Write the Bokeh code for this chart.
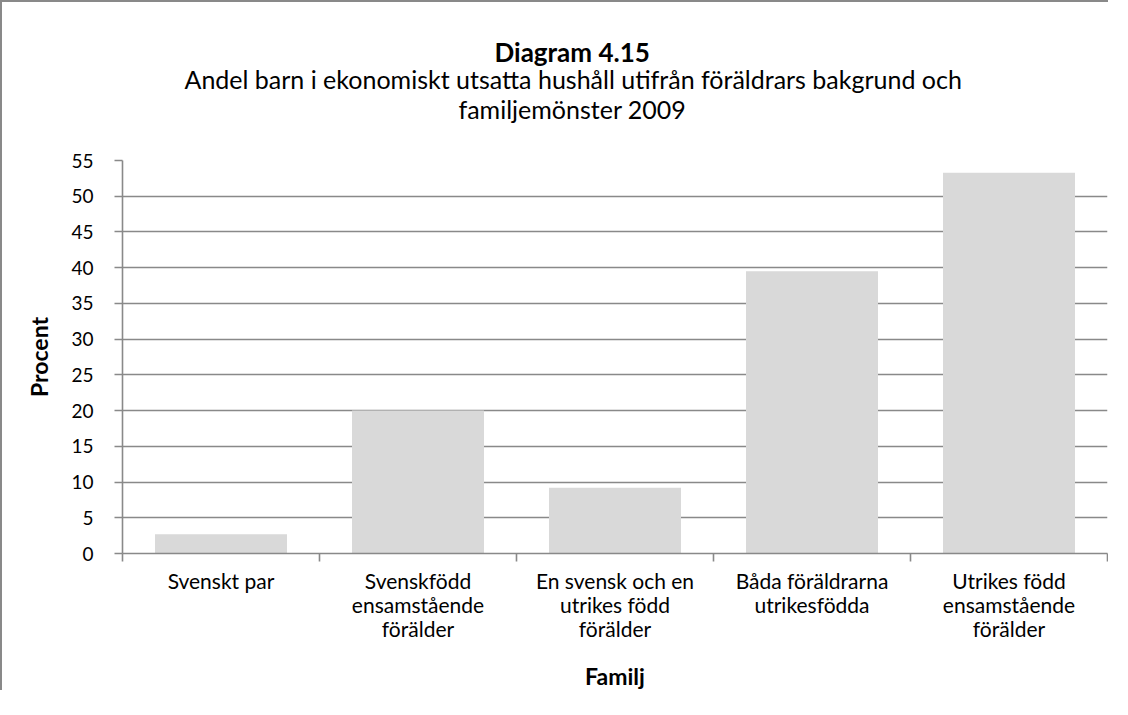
from bokeh.plotting import figure
from bokeh.models import (Title, FixedTicker, Range1d, ColumnDataSource, LinearAxis)
from bokeh.embed import file_html
from bokeh.resources import INLINE

# ---- data ----
categories = ["Svenskt par",
              "Svenskfödd ensamstående förälder",
              "En svensk och en utrikes född förälder",
              "Båda föräldrarna utrikesfödda",
              "Utrikes född ensamstående förälder"]
tick_labels = ["Svenskt par",
               "Svenskfödd\nensamstående\nförälder",
               "En svensk och en\nutrikes född\nförälder",
               "Båda föräldrarna\nutrikesfödda",
               "Utrikes född\nensamstående\nförälder"]
values = [2.7, 20.0, 9.2, 39.5, 53.3]
y_ticks = [0, 5, 10, 15, 20, 25, 30, 35, 40, 45, 50, 55]
title_main = "Diagram 4.15"
title_line1 = "Andel barn i ekonomiskt utsatta hushåll utifrån föräldrars bakgrund och"
title_line2 = "familjemönster 2009"
x_title = "Familj"
y_title = "Procent"

FONT = "Lato"
GRID = "#898989"

n = len(categories)
centers = [i + 0.5 for i in range(n)]
bounds = list(range(n + 1))
src = ColumnDataSource(dict(x=centers, cat=categories, val=values))

p = figure(width=1108, height=690, output_backend="svg", toolbar_location=None,
           x_range=Range1d(0, n), y_range=Range1d(0, 55), x_axis_location=None,
           min_border_left=120, min_border_right=3, min_border_top=158,
           min_border_bottom=138)
p.styles = {"border-top": f"2px solid {GRID}", "border-left": f"2px solid {GRID}"}
p.outline_line_color = None
p.background_fill_color = "white"
p.border_fill_color = "white"

p.vbar(x="x", top="val", width=0.67, source=src, fill_color="#d9d9d9", line_color=None)

# grid
p.xgrid.grid_line_color = None
p.ygrid.grid_line_color = GRID
p.ygrid.grid_line_width = 1.6
p.ygrid.ticker = FixedTicker(ticks=y_ticks)

# y axis
ya = p.yaxis[0]
ya.ticker = FixedTicker(ticks=y_ticks)
ya.axis_line_color = GRID
ya.axis_line_width = 1.6
ya.major_tick_line_color = GRID
ya.major_tick_line_width = 1.6
ya.major_tick_out = 8
ya.major_tick_in = 0
ya.minor_tick_line_color = None
ya.major_label_text_font = FONT
ya.major_label_text_font_size = "19px"
ya.major_label_text_color = "black"
ya.major_label_standoff = 21
ya.axis_label = y_title
ya.axis_label_text_font = FONT
ya.axis_label_text_font_size = "23px"
ya.axis_label_text_font_style = "bold"
ya.axis_label_text_color = "black"
ya.axis_label_standoff = 15

# boundary tick axis
ba = LinearAxis(ticker=FixedTicker(ticks=bounds),
                major_label_text_font_size="0px", major_label_standoff=0)
ba.major_label_overrides = {b: "" for b in bounds}
ba.axis_line_color = GRID
ba.axis_line_width = 1.6
ba.major_tick_line_color = GRID
ba.major_tick_line_width = 1.6
ba.major_tick_out = 8
ba.major_tick_in = 0
ba.minor_tick_line_color = None
p.add_layout(ba, "below")

# category label axis
ca = LinearAxis(ticker=FixedTicker(ticks=centers))
ca.axis_line_color = None
ca.major_tick_line_color = None
ca.minor_tick_line_color = None
ca.major_label_overrides = dict(zip(centers, tick_labels))
ca.major_label_text_font = FONT
ca.major_label_text_font_size = "21px"
ca.major_label_text_color = "black"
ca.major_label_text_line_height = 0.96
ca.major_label_standoff = 0
ca.axis_label = x_title
ca.axis_label_text_font = FONT
ca.axis_label_text_font_size = "23px"
ca.axis_label_text_font_style = "bold"
ca.axis_label_text_color = "black"
ca.axis_label_standoff = 18
p.add_layout(ca, "below")

# titles, stacked outward from the plot area (spacer first)
p.add_layout(Title(text=" ", text_font_size="10px", standoff=24.5), "above")
p.add_layout(Title(text=title_line2, align="left", offset=336, text_font=FONT,
                   text_font_size="25px", text_font_style="normal", text_color="black",
                   standoff=-2), "above")
p.add_layout(Title(text=title_line1, align="left", offset=62, text_font=FONT,
                   text_font_size="25px", text_font_style="normal", text_color="black",
                   standoff=-2), "above")
p.add_layout(Title(text=title_main, align="left", offset=372, text_font=FONT,
                   text_font_size="26px", text_font_style="bold", text_color="black",
                   standoff=-10), "above")

open("out.html", "w").write(file_html(p, INLINE))
